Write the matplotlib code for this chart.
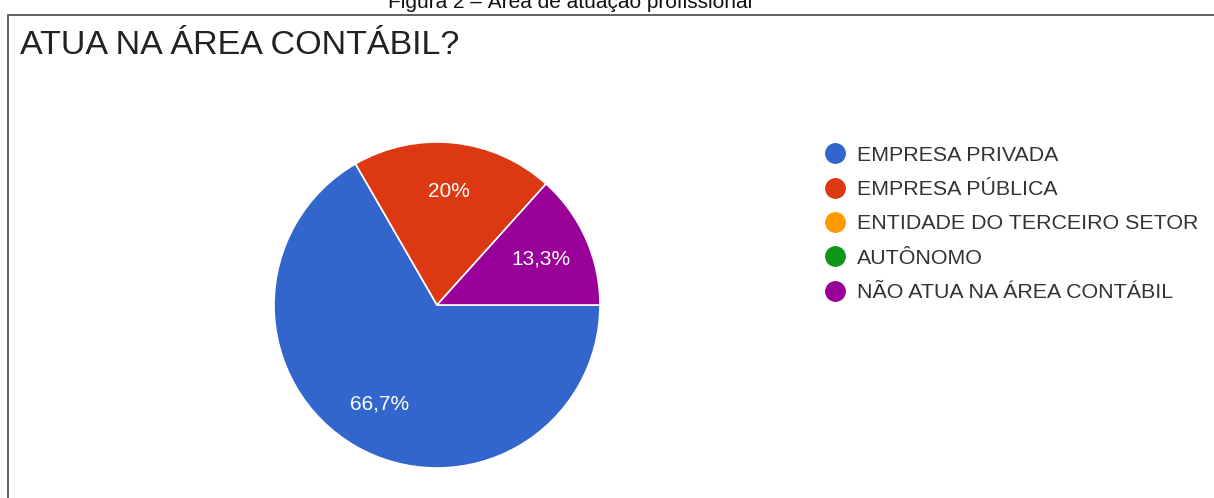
import matplotlib.pyplot as plt
from matplotlib.lines import Line2D
from matplotlib.patches import Rectangle

plt.rcParams["font.family"] = ["Liberation Sans", "DejaVu Sans"]

title = "ATUA NA ÁREA CONTÁBIL?"
caption = "Figura 2 – Área de atuação profissional"
categories = [
    "EMPRESA PRIVADA",
    "EMPRESA PÚBLICA",
    "ENTIDADE DO TERCEIRO SETOR",
    "AUTÔNOMO",
    "NÃO ATUA NA ÁREA CONTÁBIL",
]
counts = [10, 3, 0, 0, 2]
colors = ["#3366CC", "#DC3912", "#FF9900", "#109618", "#990099"]


def fmt_pct(p):
    s = f"{p:.1f}".rstrip("0").rstrip(".")
    return s.replace(".", ",") + "%"


W, H = 1214, 498
fig = plt.figure(figsize=(W / 100, H / 100), dpi=100)

# frame around the chart
fig.patches.append(Rectangle((8 / W, -0.1), 1.1, 1.1 - 15 / H,
                             transform=fig.transFigure, fill=False,
                             edgecolor="#555555", linewidth=1.3))

# caption above the frame (cut off at the top, as in the source)
fig.text(570 / W, 1 - 8 / H, caption, ha="center", va="baseline",
         fontsize=15, color="#111111")

fig.text(20 / W, 1 - 45 / H, title, ha="left", va="center",
         fontsize=24.5, color="#222222")

# pie
cx, cy, r = 437, 305, 163
ax = fig.add_axes([(cx - r) / W, (H - cy - r) / H, 2 * r / W, 2 * r / H])
vals = [c for c in counts if c > 0]
cols = [col for c, col in zip(counts, colors) if c > 0]
wedges, texts, autotexts = ax.pie(
    vals, colors=cols, startangle=0, counterclock=False,
    autopct=fmt_pct, pctdistance=0.7,
    wedgeprops=dict(edgecolor="white", linewidth=1.2),
    textprops=dict(color="white", fontsize=15),
)
ax.set_xlim(-1, 1)
ax.set_ylim(-1, 1)
ax.set_aspect("equal")
ax.axis("off")

handles = [Line2D([], [], marker="o", linestyle="", markersize=14,
                  markerfacecolor=c, markeredgecolor=c) for c in colors]
fig.legend(handles, categories, loc="upper left",
           bbox_to_anchor=(814 / W, 1 - 135 / H), frameon=False,
           fontsize=15.4, labelcolor="#333333", handletextpad=0.5,
           labelspacing=0.72, borderpad=0, handlelength=1.0)

fig.savefig("out.png", dpi=100, facecolor="white")
